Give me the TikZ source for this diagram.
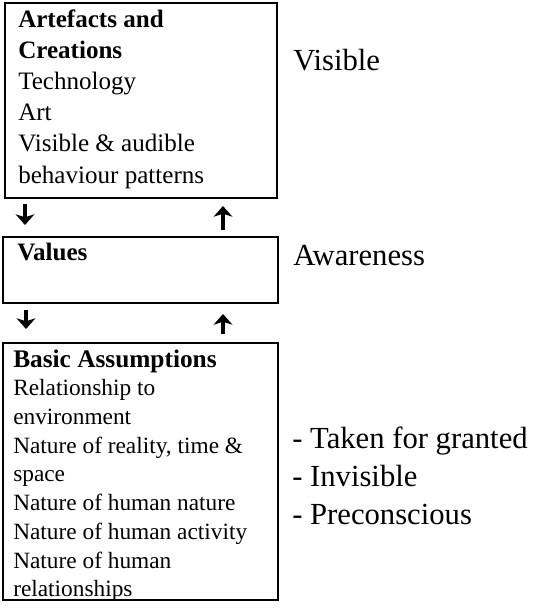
\documentclass[tikz,border=0pt]{standalone}
\usepackage{fontspec}
\setmainfont{Liberation Serif}
\usetikzlibrary{arrows.meta,fit}
% left-aligned block whose baseline is that of its first line
\newcommand{\firstlines}[1]{\begin{tabular}[t]{@{}l@{}}#1\end{tabular}}
\begin{document}
\begin{tikzpicture}[x=0.75pt,y=-0.75pt,
  level/.style={draw,line width=1.1pt,inner sep=0pt},
  boxtext/.style={anchor=base west,inner sep=0pt,
    font=\fontsize{18.8}{23.25}\selectfont},
  sidetext/.style={anchor=base west,inner sep=0pt,
    font=\fontsize{23}{28.5}\selectfont},
  flow/.style={line width=3pt,-{Stealth[length=8pt,width=14pt,inset=2.2pt]}}]
\useasboundingbox (0,0) rectangle (534,610);

% three levels of culture
\node[level,fit={(5,3) (277,198)}] (artefacts) {};
\node[level,fit={(3,237) (278,303)}] (values) {};
\node[level,fit={(3,343) (278,600)}] (assumptions) {};

\node[boxtext] (t1) at (18,28) {\firstlines{\textbf{Artefacts and}\\\textbf{Creations}\\Technology\\Art\\Visible \& audible\\behaviour patterns}};
\node[boxtext] (t2) at (17,260) {\textbf{Values}};
\node[boxtext,font=\fontsize{17.5}{21.56}\selectfont] (t3) at (13,367)
  {\firstlines{\fontsize{19}{21.56}\selectfont\textbf{Basic Assumptions}\\Relationship to\\environment\\Nature of reality, time \&\\space\\Nature of human nature\\Nature of human activity\\Nature of human\\relationships}};

% side labels
\node[sidetext] (s1) at (293,70) {Visible};
\node[sidetext] (s2) at (293,265) {Awareness};
\node[sidetext] (s3) at (292,448) {\firstlines{- Taken for granted\\- Invisible\\- Preconscious}};

% arrows between levels
\coordinate (d1a) at (25,204); \coordinate (d1b) at (25,225);
\coordinate (u1a) at (223,230); \coordinate (u1b) at (223,206);
\coordinate (d2a) at (26,310); \coordinate (d2b) at (26,329);
\coordinate (u2a) at (223,334); \coordinate (u2b) at (223,314);
\draw[flow] (d1a) -- (d1b);
\draw[flow] (u1a) -- (u1b);
\draw[flow] (d2a) -- (d2b);
\draw[flow] (u2a) -- (u2b);
\end{tikzpicture}
\end{document}
